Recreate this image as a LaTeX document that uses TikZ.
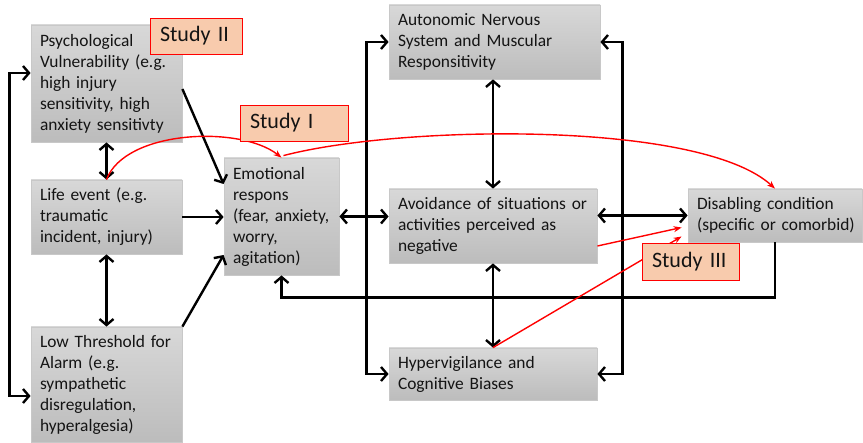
\documentclass[tikz,border=0pt]{standalone}
\usepackage{fontspec}
\setmainfont{Carlito}
\usetikzlibrary{arrows.meta,calc}
\definecolor{boxtop}{RGB}{216,216,216}
\definecolor{boxbot}{RGB}{188,188,188}
\definecolor{boxline}{RGB}{200,200,200}
\definecolor{peach}{RGB}{248,203,173}
\definecolor{txt}{RGB}{20,20,20}
\definecolor{redline}{RGB}{255,0,0}
\begin{document}
\begin{tikzpicture}[x=1pt,y=-1pt,
  bk/.tip={Straight Barb[length=6pt,width=14pt]},
  rt/.tip={Stealth[length=8pt,width=6pt]},
  box/.style={draw=boxline, line width=0.8pt, top color=boxtop, bottom color=boxbot,
    inner xsep=9pt, inner ysep=2pt, align=left, text=txt,
    font=\fontsize{17.4}{21}\selectfont},
  study/.style={draw=redline, fill=peach, line width=0.8pt, text=txt,
    font=\fontsize{22}{26}\selectfont, inner xsep=10pt, inner ysep=0pt, align=left},
  blk/.style={line width=2.4pt, black},
  arr/.style={blk, -bk},
  dbl/.style={blk, bk-bk},
  rd/.style={draw=redline, line width=1.4pt, -rt}]
\useasboundingbox (0,0) rectangle (863,443);

% boxes
\node[box, minimum height=117pt, text width=133pt] (psych) at (106.5,83.5)
  {Psychological\\Vulnerability (e.g.\\high injury\\sensitivity, high\\anxiety sensitivty};
\node[box, minimum height=74pt, text width=133pt] (life) at (106.5,217)
  {Life event (e.g.\\traumatic\\incident, injury)};
\node[box, minimum height=115pt, text width=133pt] (low) at (106.5,384.5)
  {Low Threshold for\\Alarm (e.g.\\sympathetic\\disregulation,\\hyperalgesia)};
\node[box, minimum height=117pt, text width=97pt] (emo) at (281.5,216.5)
  {Emotional\\respons\\\mbox{(fear, anxiety,}\\worry,\\agitation)};
\node[box, minimum height=74pt, text width=193pt] (ans) at (494.5,42)
  {Autonomic Nervous\\System and Muscular\\Responsitivity};
\node[box, minimum height=74pt, text width=190pt] (avoid) at (493,226)
  {\mbox{Avoidance of situations or}\\activities perceived as\\negative};
\node[box, minimum height=52pt, text width=190pt] (hyper) at (493,374)
  {Hypervigilance and\\Cognitive Biases};
\node[box, minimum height=53pt, text width=156pt] (dis) at (775,215.5)
  {\mbox{Disabling condition}\\\mbox{(specific or comorbid)}};

% black connectors
\draw[dbl] ($(psych.west)+(0,-10.5)$) -- ++(-21,0) |- ($(low.west)+(0,11.5)$);
\draw[dbl] (psych.south) -- (life.north);
\draw[dbl] (life.south) -- (low.north);
\draw[arr] ($(psych.east)+(0,5.5)$) -- ($(emo.west)+(0,-32.5)$);
\draw[arr] (life.east) -- (life.east -| emo.west);
\draw[arr] (low.north east) -- ($(emo.west)+(0,38.5)$);
\draw[dbl] (emo.east) -- (emo.east -| avoid.west);
\draw[dbl] (ans.west) -- ++(-22,0) |- (hyper.west);
\draw[dbl] (ans.east) -- ++(22,0) |- (hyper.east);
\draw[dbl] (avoid.north |- ans.south) -- (avoid.north);
\draw[dbl] (avoid.south) -- (hyper.north);
\draw[dbl] (dis.west -| avoid.east) -- (dis.west);
\draw[arr] (dis.south) -- ++(0,55) -| (emo.south);

% red connectors
\draw[rd] (life.north) .. controls (125,130) and (240,125) .. (emo.north);
\draw[rd] ($(emo.north)+(2,-2)$) .. controls (400,125) and (700,120) .. (dis.north);
\draw[rd] ($(avoid.east)+(0,20)$) -- ($(dis.west)+(-6,12)$);
\draw[rd] (hyper.north) -- ($(dis.west)+(-6,21)$);

% study labels
\node[study, text width=72pt, minimum height=36pt] (s2) at (196,36) {Study II};
\node[study, text width=88pt, minimum height=36pt] (s1) at (294,123) {Study I};
\node[study, text width=77pt, minimum height=37pt] (s3) at (690.5,261.5) {Study III};
\end{tikzpicture}
\end{document}
